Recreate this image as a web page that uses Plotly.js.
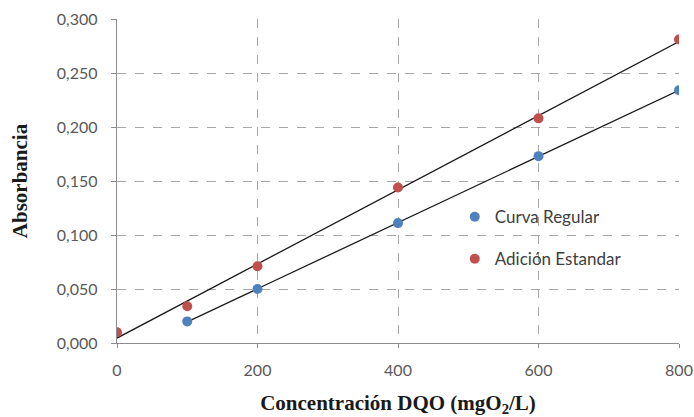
<!DOCTYPE html>
<html>
<head>
<meta charset="utf-8">
<script src="https://cdn.plot.ly/plotly-3.0.1.min.js"></script>
<style>html,body{margin:0;padding:0;background:#fff;}#chart{width:694px;height:417px;}</style>
</head>
<body>
<div id="chart"></div>
<script>
// Data
const xRegular = [100, 200, 400, 600, 800];
const yRegular = [0.020, 0.050, 0.111, 0.173, 0.234];
const xAdicion = [0, 100, 200, 400, 600, 800];
const yAdicion = [0.010, 0.034, 0.071, 0.144, 0.208, 0.281];
const seriesNames = ["Curva Regular", "Adición Estandar"];
const xTicks = [0, 200, 400, 600, 800];
const yTicks = [0, 0.05, 0.10, 0.15, 0.20, 0.25, 0.30];

function linFit(xs, ys) {
  const n = xs.length;
  const mx = xs.reduce((a, b) => a + b, 0) / n;
  const my = ys.reduce((a, b) => a + b, 0) / n;
  let sxx = 0, sxy = 0;
  for (let i = 0; i < n; i++) { sxx += (xs[i] - mx) ** 2; sxy += (xs[i] - mx) * (ys[i] - my); }
  const m = sxy / sxx, b = my - m * mx;
  const x0 = Math.min(...xs), x1 = Math.max(...xs);
  return { x: [x0, x1], y: [m * x0 + b, m * x1 + b] };
}
const fitR = linFit(xRegular, yRegular);
const fitA = linFit(xAdicion, yAdicion);

const blue = '#4F81BD', red = '#C0504D';
const traces = [
  { x: fitR.x, y: fitR.y, mode: 'lines', line: { color: '#1a1a1a', width: 1.3 }, showlegend: false, hoverinfo: 'skip' },
  { x: fitA.x, y: fitA.y, mode: 'lines', line: { color: '#1a1a1a', width: 1.3 }, showlegend: false, hoverinfo: 'skip' },
  { x: xRegular, y: yRegular, mode: 'markers', name: seriesNames[0], legendgroup: 'a', marker: { color: blue, size: 10 } },
  { x: xAdicion, y: yAdicion, mode: 'markers', name: seriesNames[1], legendgroup: 'b', marker: { color: red, size: 10 } }
];

const tickFont = { family: 'Lato, "Open Sans", sans-serif', size: 16, color: '#595959' };
const titleFont = { family: '"Liberation Serif", "Times New Roman", serif', size: 21, color: '#1a1a1a', weight: 'bold' };

const layout = {
  width: 694, height: 417,
  margin: { l: 117, r: 15, t: 19, b: 74 },
  paper_bgcolor: '#fff', plot_bgcolor: '#fff',
  separators: ',.',
  showlegend: true,
  legend: { x: 0.601, xanchor: 'left', y: 0.444, yanchor: 'top', bgcolor: 'rgba(0,0,0,0)',
            font: { family: 'Lato, "Open Sans", sans-serif', size: 17, color: '#404040' }, tracegroupgap: 17 },
  xaxis: {
    range: [0, 800], tickvals: xTicks, tickformat: 'd',
    showgrid: true, gridcolor: '#a6a6a6', griddash: 'dash', gridwidth: 1,
    showline: true, linecolor: '#8c8c8c', linewidth: 1.3,
    ticks: 'outside', ticklen: 4, tickcolor: '#8c8c8c',
    zeroline: false, tickfont: tickFont, ticklabelstandoff: 8,
    title: { text: '<b>Concentración DQO (mgO<sub>2</sub>/L)</b>', font: titleFont, standoff: 18 }
  },
  yaxis: {
    range: [0, 0.3], tickvals: yTicks, tickformat: '.3f',
    showgrid: true, gridcolor: '#a6a6a6', griddash: 'dash', gridwidth: 1,
    showline: true, linecolor: '#8c8c8c', linewidth: 1.3,
    ticks: 'outside', ticklen: 5, tickcolor: '#8c8c8c',
    zeroline: false, tickfont: tickFont, ticklabelstandoff: 10,
    title: { text: '<b>Absorbancia</b>', font: titleFont, standoff: 23 }
  }
};

Plotly.newPlot('chart', traces, layout, { displayModeBar: false, staticPlot: true });
</script>
</body>
</html>
